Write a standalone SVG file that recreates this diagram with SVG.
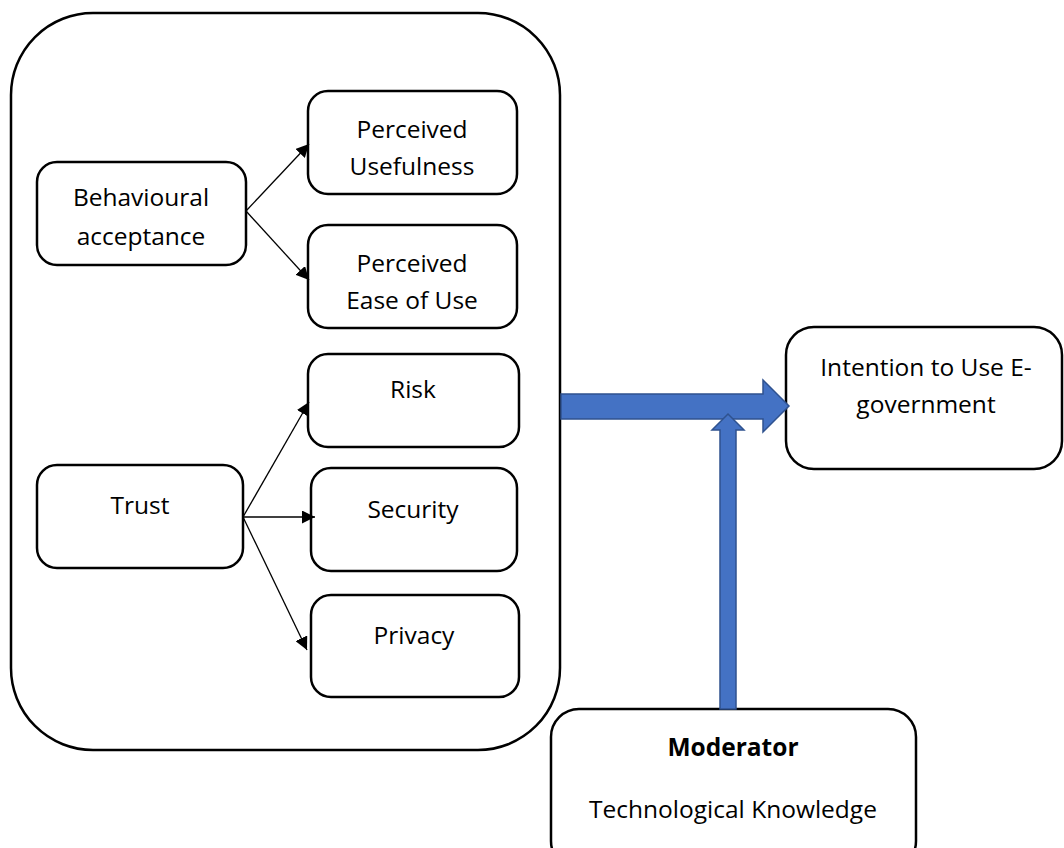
<svg xmlns="http://www.w3.org/2000/svg" width="1064" height="848" viewBox="0 0 1064 848">
<style>
.box{fill:#fff;stroke:#000;stroke-width:2.5}
.t{font-family:"Open Sans","Liberation Sans",sans-serif;font-size:24.5px;fill:#000;text-anchor:middle}
.b{font-weight:bold}
.ln{stroke:#000;stroke-width:1.3;fill:none}
.blk{fill:#4472C4;stroke:#2F528F;stroke-width:1.5}
</style>
<defs>
<marker id="ah" viewBox="0 0 10 10" refX="10" refY="5" markerWidth="13" markerHeight="13" markerUnits="userSpaceOnUse" orient="auto">
<path d="M0,0 L10,5 L0,10 z" fill="#000"/>
</marker>
</defs>
<g id="container"><rect class="box" x="11" y="13" width="549" height="737" rx="82" ry="82"/></g>
<g id="n-pu"><rect class="box" x="308" y="91" width="209" height="103" rx="20"/><text class="t" x="412" y="138">Perceived</text><text class="t" x="412" y="175">Usefulness</text></g>
<g id="n-peou"><rect class="box" x="308" y="225" width="209" height="103" rx="20"/><text class="t" x="412" y="272">Perceived</text><text class="t" x="412" y="309">Ease of Use</text></g>
<g id="n-ba"><rect class="box" x="37" y="162" width="209" height="103" rx="20"/><text class="t" x="141" y="206">Behavioural</text><text class="t" x="141" y="245">acceptance</text></g>
<g id="n-risk"><rect class="box" x="308" y="354" width="211" height="93" rx="20"/><text class="t" x="413" y="398">Risk</text></g>
<g id="n-trust"><rect class="box" x="37" y="465" width="206" height="103" rx="20"/><text class="t" x="140" y="514">Trust</text></g>
<g id="n-sec"><rect class="box" x="311" y="468" width="206" height="103" rx="20"/><text class="t" x="413" y="518">Security</text></g>
<g id="n-priv"><rect class="box" x="311" y="595" width="208" height="102" rx="20"/><text class="t" x="414" y="644">Privacy</text></g>
<g id="n-int"><rect class="box" x="786" y="327" width="276" height="142" rx="28"/><text class="t" x="926" y="376">Intention to Use E-</text><text class="t" x="926" y="413">government</text></g>
<g id="n-mod"><rect class="box" x="551" y="709" width="365" height="160" rx="28"/><text class="t b" x="733" y="756">Moderator</text><text class="t" x="733" y="818">Technological Knowledge</text></g>
<g id="connectors">
<line class="ln" x1="246" y1="211" x2="309" y2="144" marker-end="url(#ah)"/>
<line class="ln" x1="246" y1="211" x2="309" y2="280" marker-end="url(#ah)"/>
<line class="ln" x1="243" y1="517" x2="309" y2="402" marker-end="url(#ah)"/>
<line class="ln" x1="243" y1="517" x2="315" y2="517" marker-end="url(#ah)"/>
<line class="ln" x1="243" y1="517" x2="307" y2="650" marker-end="url(#ah)"/>
<path class="blk" d="M561,394 L763,394 L763,380 L789,406 L763,432 L763,419 L561,419 Z"/>
<path class="blk" d="M720,709 L720,430 L712,430 L728,414 L744,430 L736,430 L736,709 Z"/>
</g>
</svg>
